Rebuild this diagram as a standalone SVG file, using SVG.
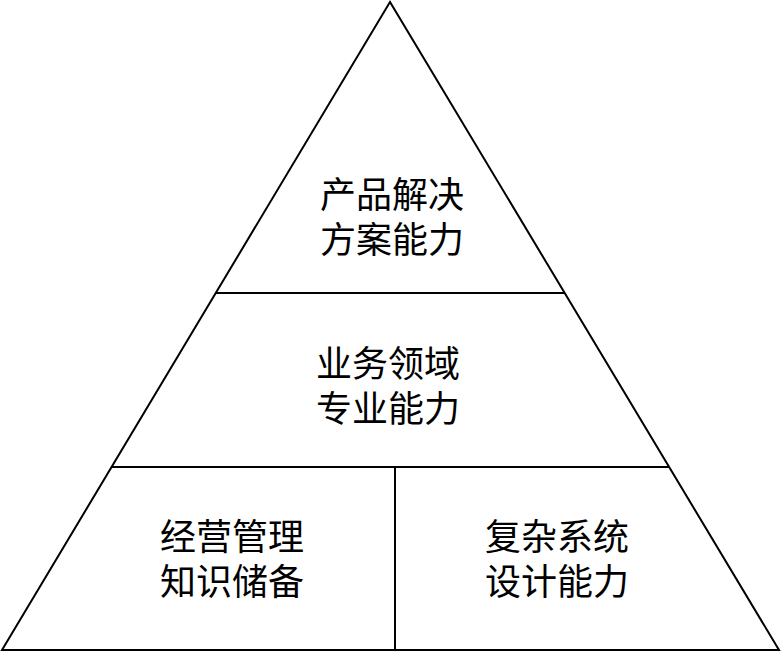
<svg xmlns="http://www.w3.org/2000/svg" width="781" height="652" viewBox="0 0 781 652">
<style>
.l{stroke:#000;stroke-width:2;fill:none}
text{font-family:"Noto Sans CJK SC",sans-serif;font-size:36px;text-anchor:middle;fill:#000}
</style>
<rect width="781" height="652" fill="#fff"/>
<g id="connectors">
<polygon class="l" points="390,2 2,650 779,650"/>
<line class="l" x1="216" y1="293" x2="565" y2="293"/>
<line class="l" x1="112" y1="467" x2="669" y2="467"/>
<line class="l" x1="395" y1="467" x2="395" y2="650"/>
</g>
<g id="top"><text x="392" y="208">产品解决</text><text x="392" y="253">方案能力</text></g>
<g id="mid"><text x="388" y="377">业务领域</text><text x="388" y="422">专业能力</text></g>
<g id="left"><text x="232" y="550">经营管理</text><text x="232" y="595">知识储备</text></g>
<g id="right"><text x="557" y="550">复杂系统</text><text x="557" y="595">设计能力</text></g>
</svg>
